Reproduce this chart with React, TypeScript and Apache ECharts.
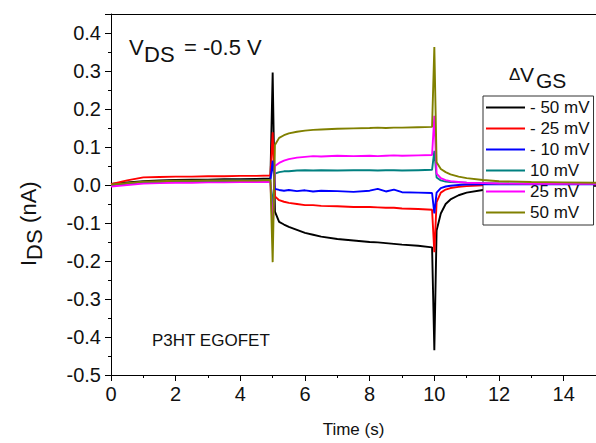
import React, { useEffect, useRef } from 'react';
import * as echarts from 'echarts';

// Time axis (s)
const timeS = [
  0, 0.5, 1, 1.5, 2, 2.5, 3, 3.5, 4, 4.5,
  4.93, 5.0, 5.07, 5.2, 5.35, 5.5, 5.75, 6, 6.25, 6.5,
  7, 7.5, 8, 8.25, 8.5, 8.75, 9, 9.5, 9.93, 10.0,
  10.07, 10.2, 10.35, 10.5, 10.75, 11, 11.5, 12, 13, 14, 15,
];

const seriesNames = ['- 50 mV', '- 25 mV', '- 10 mV', '10 mV', '25 mV', '50 mV'];
const seriesColors = ['#000000', '#ff0000', '#0000ff', '#008080', '#ff00ff', '#808000'];

// I_DS (nA)
const minus50 = [
  0.003, 0.007, 0.010, 0.012, 0.013, 0.014, 0.014, 0.015, 0.015, 0.016,
  0.017, 0.296, -0.070, -0.097, -0.104, -0.110, -0.118, -0.126, -0.131, -0.136,
  -0.142, -0.146, -0.150, -0.151, -0.153, -0.155, -0.157, -0.160, -0.164, -0.435,
  -0.120, -0.075, -0.050, -0.038, -0.027, -0.020, -0.013, -0.009, -0.005, -0.003, -0.002,
];
const minus25 = [
  0.002, 0.012, 0.020, 0.021, 0.022, 0.022, 0.023, 0.023, 0.024, 0.024,
  0.025, 0.139, -0.030, -0.040, -0.044, -0.047, -0.050, -0.053, -0.053, -0.055,
  -0.056, -0.058, -0.058, -0.059, -0.060, -0.060, -0.062, -0.063, -0.065, -0.177,
  -0.045, -0.020, -0.012, -0.008, -0.005, -0.003, -0.001, 0.000, 0.001, 0.001, 0.001,
];
const minus10 = [
  -0.002, 0.003, 0.007, 0.009, 0.010, 0.010, 0.011, 0.011, 0.012, 0.012,
  0.013, 0.064, -0.010, -0.013, -0.015, -0.013, -0.016, -0.014, -0.017, -0.015,
  -0.016, -0.018, -0.015, -0.010, -0.017, -0.012, -0.019, -0.020, -0.021, -0.075,
  -0.020, -0.008, -0.004, -0.002, 0.000, 0.001, 0.002, 0.002, 0.002, 0.002, 0.002,
];
const plus10 = [
  0.000, 0.004, 0.007, 0.008, 0.009, 0.010, 0.010, 0.011, 0.011, 0.011,
  0.012, -0.060, 0.030, 0.034, 0.036, 0.036, 0.038, 0.039, 0.038, 0.039,
  0.038, 0.039, 0.039, 0.038, 0.039, 0.039, 0.038, 0.039, 0.040, 0.090,
  0.020, 0.012, 0.009, 0.008, 0.007, 0.006, 0.005, 0.004, 0.004, 0.004, 0.004,
];
const plus25 = [
  -0.004, 0.000, 0.004, 0.005, 0.006, 0.006, 0.007, 0.007, 0.008, 0.008,
  0.008, -0.120, 0.050, 0.058, 0.064, 0.068, 0.072, 0.074, 0.076, 0.075,
  0.077, 0.076, 0.077, 0.076, 0.077, 0.078, 0.077, 0.078, 0.079, 0.182,
  0.030, 0.018, 0.013, 0.010, 0.008, 0.006, 0.005, 0.004, 0.003, 0.003, 0.003,
];
const plus50 = [
  0.001, 0.005, 0.009, 0.010, 0.011, 0.011, 0.012, 0.012, 0.012, 0.012,
  0.013, -0.203, 0.105, 0.124, 0.131, 0.136, 0.140, 0.143, 0.145, 0.146,
  0.148, 0.149, 0.150, 0.151, 0.150, 0.151, 0.151, 0.152, 0.153, 0.363,
  0.060, 0.042, 0.034, 0.028, 0.022, 0.018, 0.013, 0.010, 0.008, 0.007, 0.006,
];

const allValues = [minus50, minus25, minus10, plus10, plus25, plus50];

const FONT = 'Liberation Sans, Arial, sans-serif';

export default function App() {
  const ref = useRef<HTMLDivElement>(null);

  useEffect(() => {
    if (!ref.current) return;
    const chart = echarts.init(ref.current, null, { renderer: 'svg' });

    const series = allValues.map((vals, i) => ({
      name: seriesNames[i],
      type: 'line',
      data: timeS.map((t, j) => [t, vals[j]]),
      showSymbol: false,
      symbol: 'none',
      color: seriesColors[i],
      lineStyle: { width: 1.9, color: seriesColors[i] },
      z: 2 + i,
    }));

    const axisCommon = {
      axisLine: { show: true, onZero: false, lineStyle: { color: '#000', width: 1 } },
      splitLine: { show: false },
    };

    chart.setOption({
      animation: false,
      backgroundColor: '#fff',
      textStyle: { fontFamily: FONT },
      grid: { left: 111, top: 14, right: -6, bottom: 67, containLabel: false },
      xAxis: [
        {
          type: 'value',
          min: 0,
          max: 15,
          interval: 2,
          ...axisCommon,
          axisTick: { show: true, length: 6, lineStyle: { color: '#000' } },
          minorTick: { show: true, splitNumber: 2, length: 3, lineStyle: { color: '#000' } },
          axisLabel: {
            margin: 9,
            fontSize: 20,
            color: '#111',
            fontFamily: FONT,
            showMaxLabel: false,
            formatter: (v: number) => (v > 14.5 ? '' : String(Math.round(v))),
          },
          name: 'Time (s)',
          nameLocation: 'middle',
          nameGap: 46,
          nameTextStyle: { fontSize: 17, color: '#111', fontFamily: FONT },
        },
        {
          type: 'value',
          position: 'top',
          min: 0,
          max: 15,
          interval: 2,
          axisLine: { show: true, onZero: false, lineStyle: { color: '#000', width: 1 } },
          axisTick: { show: false },
          axisLabel: { show: false },
          splitLine: { show: false },
        },
      ],
      yAxis: {
        type: 'value',
        min: -0.5,
        max: 0.45,
        interval: 0.1,
        ...axisCommon,
        axisTick: { show: true, length: 6, lineStyle: { color: '#000' } },
        minorTick: { show: true, splitNumber: 2, length: 3, lineStyle: { color: '#000' } },
        axisLabel: {
          margin: 10,
          fontSize: 20,
          color: '#111',
          fontFamily: FONT,
          showMaxLabel: false,
          formatter: (v: number) => (v > 0.42 ? '' : v.toFixed(1) === '-0.0' ? '0.0' : v.toFixed(1)),
        },
      },
      legend: {
        orient: 'vertical',
        left: 483,
        top: 96,
        itemWidth: 39,
        itemHeight: 2,
        itemGap: 4,
        padding: [3, 4, 4, 3],
        borderColor: '#333',
        borderWidth: 1,
        backgroundColor: '#fff',
        icon: 'rect',
        textStyle: { fontSize: 17, color: '#111', fontFamily: FONT },
        data: seriesNames,
      },
      graphic: [
        { type: 'text', x: 129, y: 47.5, style: { text: 'V', fontSize: 22, fontFamily: FONT, fill: '#111', verticalAlign: 'middle', align: 'left' } },
        { type: 'text', x: 144, y: 54.5, style: { text: 'DS', fontSize: 22, fontFamily: FONT, fill: '#111', verticalAlign: 'middle', align: 'left' } },
        { type: 'text', x: 184, y: 47.5, style: { text: '= -0.5 V', fontSize: 22, fontFamily: FONT, fill: '#111', verticalAlign: 'middle', align: 'left' } },

        { type: 'text', x: 509, y: 74, style: { text: 'Δ', fontSize: 17, fontFamily: FONT, fill: '#111', verticalAlign: 'middle', align: 'left' } },
        { type: 'text', x: 520, y: 74.2, style: { text: 'V', fontSize: 21, fontFamily: FONT, fill: '#111', verticalAlign: 'middle', align: 'left' } },
        { type: 'text', x: 536, y: 80, style: { text: 'GS', fontSize: 21, fontFamily: FONT, fill: '#111', verticalAlign: 'middle', align: 'left' } },

        { type: 'text', x: 152, y: 340, style: { text: 'P3HT EGOFET', fontSize: 17, fontFamily: FONT, fill: '#111', verticalAlign: 'middle', align: 'left' } },

        { type: 'text', x: 28, y: 266, rotation: Math.PI / 2, style: { text: 'I', fontSize: 22, fontFamily: FONT, fill: '#111', verticalAlign: 'middle', align: 'left' } },
        { type: 'text', x: 34, y: 260, rotation: Math.PI / 2, style: { text: 'DS', fontSize: 22, fontFamily: FONT, fill: '#111', verticalAlign: 'middle', align: 'left' } },
        { type: 'text', x: 28, y: 229, rotation: Math.PI / 2, style: { text: ' (nA)', fontSize: 22, fontFamily: FONT, fill: '#111', verticalAlign: 'middle', align: 'left' } },
      ],
      series,
    });

    return () => chart.dispose();
  }, []);

  return (
    <div
      ref={ref}
      style={{ position: 'absolute', left: 0, top: 0, width: 596, height: 443, background: '#fff', overflow: 'hidden' }}
    />
  );
}
